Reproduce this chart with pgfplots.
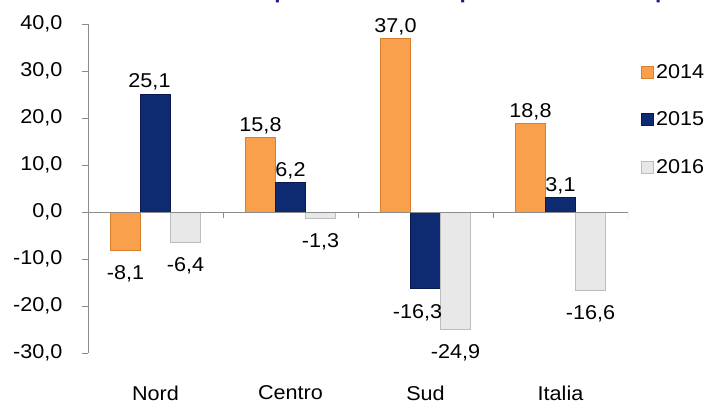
\documentclass[border=0pt]{standalone}
\usepackage{fontspec}
\setmainfont{Liberation Sans}[FakeStretch=1.08]
\usepackage{pgfplots}
\pgfplotsset{compat=1.18}
\definecolor{cOr}{HTML}{F9A04C}
\definecolor{cOrE}{HTML}{D9802E}
\definecolor{cNv}{HTML}{0E2A70}
\definecolor{cNvE}{HTML}{081A4E}
\definecolor{cGr}{HTML}{E8E8E8}
\definecolor{cGrE}{HTML}{BDBDBD}
\definecolor{axgray}{HTML}{8C8C8C}
\definecolor{cTitle}{HTML}{1A1A8C}
\pgfplotsset{legsq/.style={legend image code/.code={\fill[##1] (0pt,-6pt) rectangle (12pt,6pt);}}}
\begin{document}
\begin{tikzpicture}[font=\fontsize{20}{24}\selectfont]
\path[use as bounding box] (0pt,0pt) rectangle (710pt,404pt);
\node[anchor=base west, font=\fontsize{21}{24}\selectfont\bfseries, text=cTitle, inner sep=0pt] at (128pt,405pt) {Variazione rispetto allo stesso periodo dell'anno precedente};
\begin{axis}[
  at={(88pt,51pt)}, anchor=south west, scale only axis,
  width=540pt, height=329pt,
  ymin=-30, ymax=40, ytick={-30,-20,...,40},
  xmin=-0.5, xmax=3.5,
  axis y line*=left, axis x line*=bottom,
  x axis line style={draw=none},
  y axis line style={-, draw=axgray},
  ytick style={draw=axgray},
  tick align=outside, major tick length=6pt,
  xtick={0,1,2,3}, xticklabels={Nord,Centro,Sud,Italia},
  xtick style={draw=none},
  xticklabel style={yshift=-23pt},
  yticklabel style={xshift=-16pt, /pgf/number format/.cd, fixed, fixed zerofill, precision=1, use comma, assume math mode=true},
  ybar=0pt, bar width=30pt,
  nodes near coords={\pgfmathprintnumber[fixed,fixed zerofill,precision=1,use comma,assume math mode=true]{\pgfplotspointmeta}},
  every node near coord/.append style={font=\fontsize{20}{24}\selectfont, text=black, inner sep=3pt},
  legend style={draw=none, fill=none, at={(1.0185,0.89)}, anchor=north west,
    row sep=28pt, font=\fontsize{20}{24}\selectfont,
    /tikz/every even column/.append style={column sep=0pt}},
  legend cell align=left,
]
\addplot[fill=cOr, draw=cOrE, line width=1pt, legsq,
  coordinate style/.condition={y<0}{yshift=-12pt}]
  coordinates {(0,-8.1) (1,15.8) (2,37.0) (3,18.8)};
\addplot[fill=cNv, draw=cNvE, line width=1pt, legsq,
  coordinate style/.condition={y<0}{yshift=-12pt},
  coordinate style/.condition={x==2}{xshift=-8pt},
  coordinate style/.condition={x==0}{xshift=-6pt}]
  coordinates {(0,25.1) (1,6.2) (2,-16.3) (3,3.1)};
\addplot[fill=cGr, draw=cGrE, line width=1pt, legsq,
  coordinate style/.condition={y<0}{yshift=-12pt}]
  coordinates {(0,-6.4) (1,-1.3) (2,-24.9) (3,-16.6)};
\legend{2014,2015,2016}
\draw[axgray] (axis cs:-0.5,0) -- (axis cs:3.5,0);
\draw[axgray] (axis cs:0.5,0) -- ++(0pt,-6pt);
\draw[axgray] (axis cs:1.5,0) -- ++(0pt,-6pt);
\draw[axgray] (axis cs:2.5,0) -- ++(0pt,-6pt);
\draw[axgray] (axis cs:3.5,0) -- ++(0pt,-6pt);
\end{axis}
\end{tikzpicture}
\end{document}
